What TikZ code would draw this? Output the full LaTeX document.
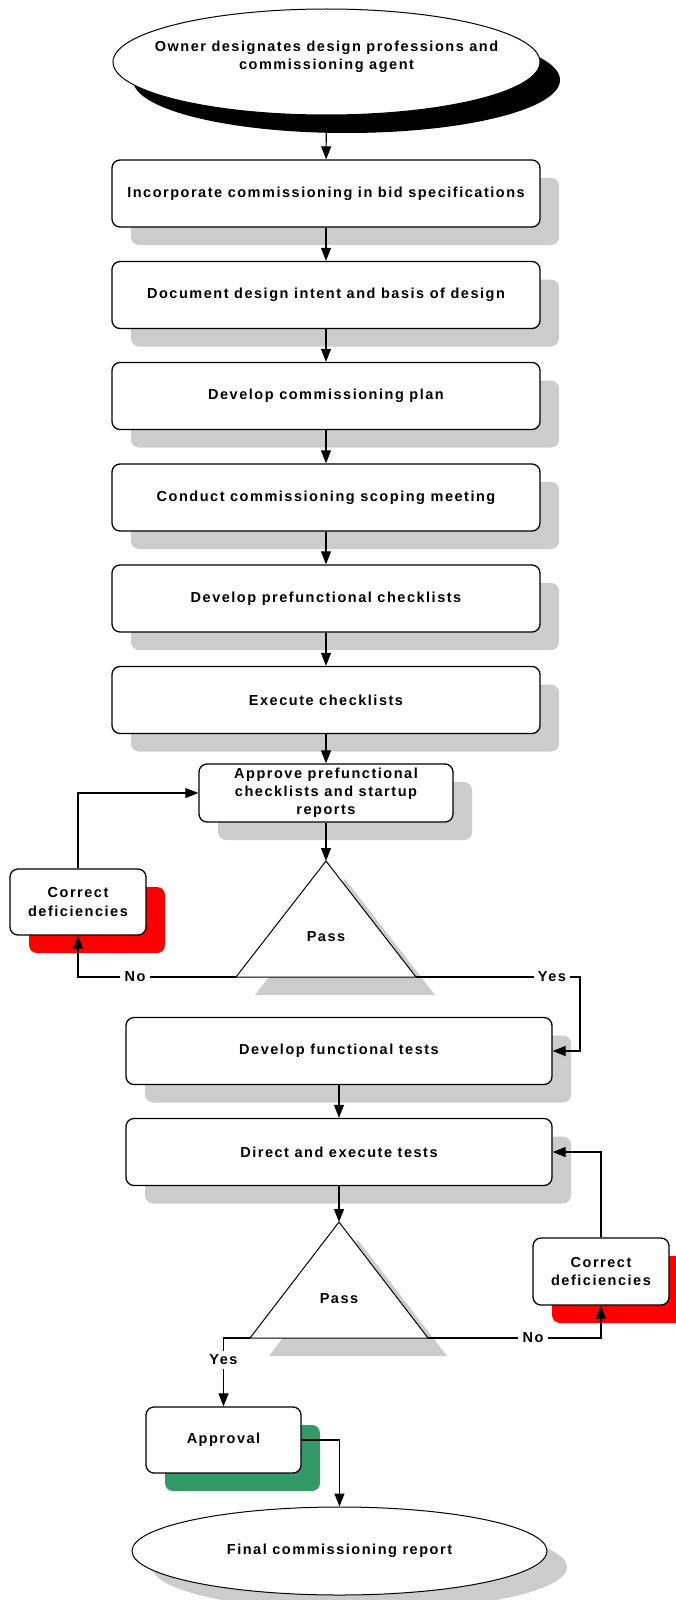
\documentclass[tikz,border=0pt]{standalone}
\usepackage{fontspec}
\setmainfont{Liberation Sans}[LetterSpace=10.5]
\usepackage{xcolor}
\usetikzlibrary{positioning,shapes.geometric,shadows,arrows.meta}

\definecolor{shadegray}{HTML}{CCCCCC}
\definecolor{fixred}{HTML}{FF0000}
\definecolor{okgreen}{HTML}{339966}

\tikzset{
    every node/.style={font=\bfseries\fontsize{14.5}{18.2}\selectfont},
    box/.style={draw, line width=1.3pt, rounded corners=8pt, fill=white, align=center, inner sep=2pt},
    shadowed/.style={drop shadow={shadow xshift=19pt, shadow yshift=-18pt, fill=#1, opacity=1}},
    mainbox/.style={box, shadowed=shadegray, minimum width=428pt, minimum height=67pt},
    fixbox/.style={box, shadowed=fixred, minimum width=136pt, minimum height=66pt},
    oval/.style={draw, ellipse, line width=1pt, fill=white, align=center, inner sep=0pt},
    lbl/.style={inner sep=4pt},
    link/.style={line width=1.1pt, -{Triangle[length=13pt,width=10pt]}},
    line/.style={line width=1.1pt}
}

\begin{document}
\begin{tikzpicture}[x=1pt,y=-1pt]
        \useasboundingbox (0,0) rectangle (676,1600);
        % start and steps
        \node[oval, minimum width=427pt, minimum height=106pt,
            drop shadow={shadow xshift=20pt, shadow yshift=-18pt, fill=black, opacity=1},
            label={[align=center, yshift=5pt]center:Owner designates design professions and\\commissioning agent}]
            (owner) at (326.5,62) {};
        \node[mainbox] (inc) at (326,193.5) {Incorporate commissioning in bid specifications};
        \node[mainbox] (intent) at (326,295) {Document design intent and basis of design};
        \node[mainbox] (plan) at (326,396) {Develop commissioning plan};
        \node[mainbox] (scope) at (326,497.5) {Conduct commissioning scoping meeting};
        \node[mainbox] (prefn) at (326,598.5) {Develop prefunctional checklists};
        \node[mainbox] (exe) at (326,700) {Execute checklists};
        \node[box, shadowed=shadegray, minimum width=254pt, minimum height=58pt]
            (appr) at (326,793) {Approve prefunctional\\checklists and startup\\reports};

        % first check
        \coordinate (t1a) at (326,861);
        \coordinate (t1l) at (236,977);
        \coordinate (t1r) at (416,977);
        \fill[shadegray] ([shift={(19,18)}]t1a) -- ([shift={(19,18)}]t1l) -- ([shift={(19,18)}]t1r) -- cycle;
        \draw[fill=white, line width=1pt] (t1a) -- (t1l) -- (t1r) -- cycle;
        \node (pass1) at (326,937) {Pass};
        \node[fixbox] (fix1) at (78,902) {Correct\\deficiencies};

        \node[mainbox, minimum width=426pt] (func) at (339,1051) {Develop functional tests};
        \node[mainbox, minimum width=426pt] (tests) at (339,1152) {Direct and execute tests};

        % second check
        \coordinate (t2a) at (339,1222);
        \coordinate (t2l) at (250,1338);
        \coordinate (t2r) at (428,1338);
        \fill[shadegray] ([shift={(19,18)}]t2a) -- ([shift={(19,18)}]t2l) -- ([shift={(19,18)}]t2r) -- cycle;
        \draw[fill=white, line width=1pt] (t2a) -- (t2l) -- (t2r) -- cycle;
        \node (pass2) at (339,1299) {Pass};
        \node[fixbox, minimum height=67pt] (fix2) at (601,1271.5) {Correct\\deficiencies};

        \node[box, shadowed=okgreen, minimum width=155pt, minimum height=66pt] (appv) at (223.5,1440) {Approval};
        \node[oval, minimum width=415pt, minimum height=88pt,
            drop shadow={shadow xshift=20pt, shadow yshift=-16pt, fill=shadegray, opacity=1}]
            (final) at (339.5,1551) {Final commissioning report};

        % labels on the branches
        \node[lbl] (no1) at (135,977) {No};
        \node[lbl] (yes1) at (552,977) {Yes};
        \node[lbl] (no2) at (533,1338) {No};
        \node[lbl] (yes2) at (223.5,1360) {Yes};
        \coordinate (c1) at (580,977);
        \coordinate (c2) at (223.5,1338);

        % connectors
        \draw[link] (owner) -- (inc);
        \draw[link] (inc) -- (intent);
        \draw[link] (intent) -- (plan);
        \draw[link] (plan) -- (scope);
        \draw[link] (scope) -- (prefn);
        \draw[link] (prefn) -- (exe);
        \draw[link] (exe) -- (appr);
        \draw[link] (appr) -- (t1a);
        \draw[line] (t1l) -- (no1);
        \draw[link] (no1) -| (fix1);
        \draw[link] (fix1) |- (appr);
        \draw[line] (t1r) -- (yes1);
        \draw[link] (yes1) -- (c1) |- (func);
        \draw[link] (func) -- (tests);
        \draw[link] (tests) -- (t2a);
        \draw[line] (t2r) -- (no2);
        \draw[link] (no2) -| (fix2);
        \draw[link] (fix2) |- (tests);
        \draw[line] (t2l) -- (c2) -- (yes2);
        \draw[link] (yes2) -- (appv);
        \draw[link] (appv) -| (final);
\end{tikzpicture}
\end{document}
